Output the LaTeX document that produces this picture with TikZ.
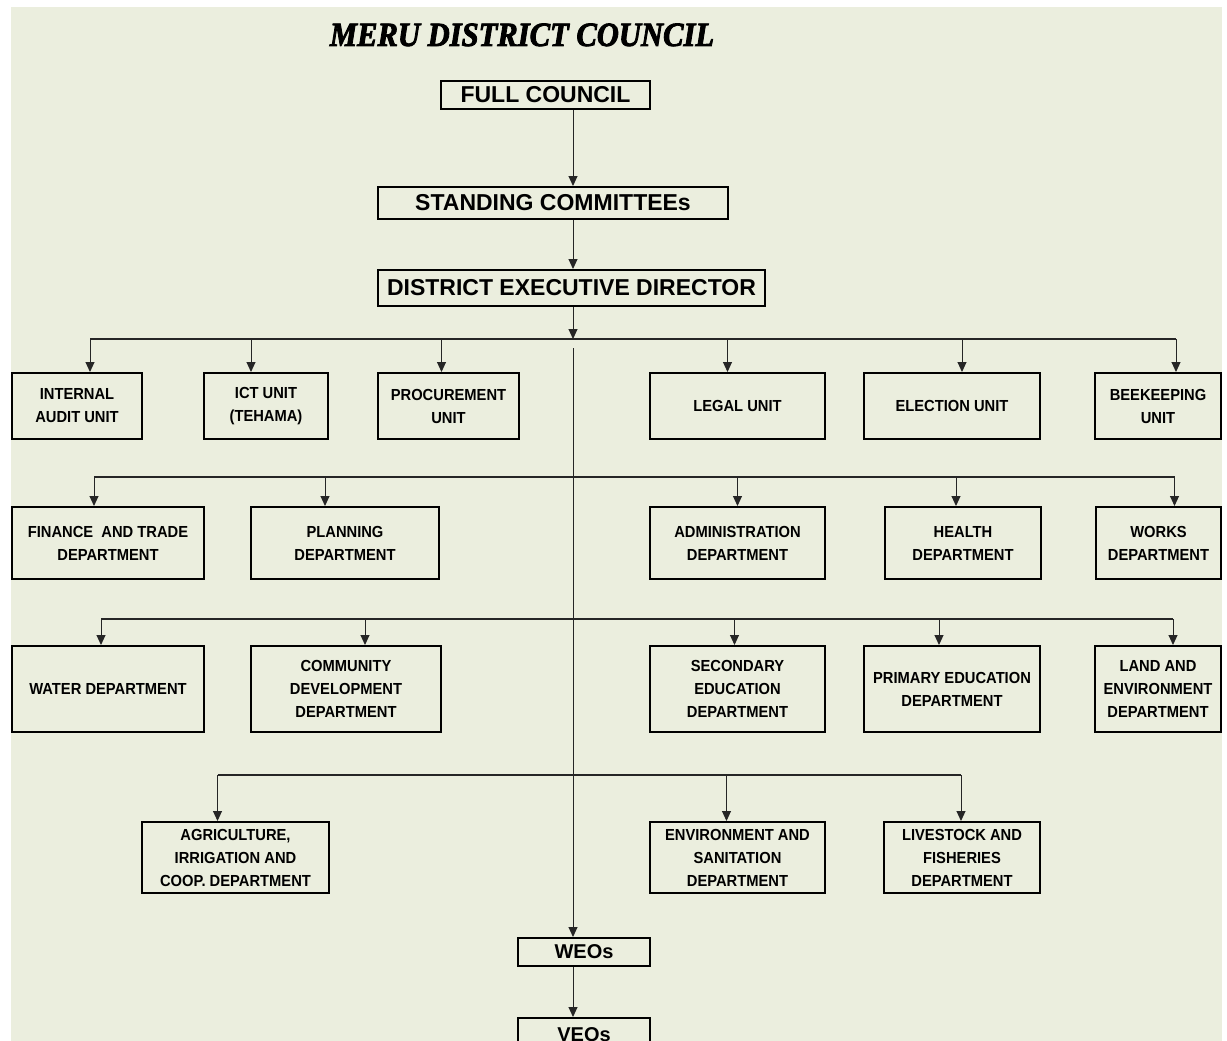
\documentclass[tikz,border=0pt]{standalone}
\usepackage{fontspec}
\setmainfont{Liberation Sans}
\newfontfamily\boxfont{Liberation Sans}[FakeStretch=0.92]
\newfontfamily\titlefont{Liberation Serif}[FakeBold=2.5,FakeStretch=0.9]
\usetikzlibrary{arrows.meta}
\definecolor{paper}{RGB}{235,238,222}

\begin{document}
\begin{tikzpicture}[x=1pt,y=-1pt,
  >={Triangle[length=10pt,width=9pt]},
  unit/.style={draw,rectangle,line width=2pt,anchor=north west,align=center,inner sep=0pt,
    font=\boxfont\bfseries\fontsize{16}{23}\selectfont},
  head/.style={draw,rectangle,line width=2pt,anchor=north west,inner sep=0pt,
    font=\bfseries\fontsize{23}{26}\selectfont},
  link/.style={->,line width=1pt,black!85},
  bus/.style={line width=1.2pt,black!85}]
\useasboundingbox (0,0) rectangle (1227,1041);
\fill[paper] (11,7) rectangle (1222,1041);

\node[font=\titlefont\bfseries\itshape\fontsize{34}{36}\selectfont,anchor=base] (title) at (522,46) {MERU DISTRICT COUNCIL};

\node[head,minimum width=209pt,minimum height=28pt] (full) at (440,80) {FULL COUNCIL};
\node[head,minimum width=350pt,minimum height=32pt] (stand) at (377,186) {STANDING COMMITTEEs};
\node[head,minimum width=387pt,minimum height=36pt] (ded) at (377,269) {DISTRICT EXECUTIVE DIRECTOR};

% units
\node[unit,minimum width=130pt,minimum height=66pt] (audit) at (11,372) {INTERNAL\\AUDIT UNIT};
\node[unit,minimum width=124pt,minimum height=66pt] (ict) at (203,372) {ICT UNIT\\(TEHAMA)};
\node[unit,minimum width=141pt,minimum height=66pt] (proc) at (377,372) {PROCUREMENT\\UNIT};
\node[unit,minimum width=175pt,minimum height=66pt] (legal) at (649,372) {LEGAL UNIT};
\node[unit,minimum width=176pt,minimum height=66pt] (elect) at (863,372) {ELECTION UNIT};
\node[unit,minimum width=126pt,minimum height=66pt] (bee) at (1094,372) {BEEKEEPING\\UNIT};

% departments
\node[unit,minimum width=192pt,minimum height=72pt] (fin) at (11,506) {FINANCE\ \ AND TRADE\\DEPARTMENT};
\node[unit,minimum width=188pt,minimum height=72pt] (plan) at (250,506) {PLANNING\\DEPARTMENT};
\node[unit,minimum width=175pt,minimum height=72pt] (admin) at (649,506) {ADMINISTRATION\\DEPARTMENT};
\node[unit,minimum width=156pt,minimum height=72pt] (health) at (884,506) {HEALTH\\DEPARTMENT};
\node[unit,minimum width=125pt,minimum height=72pt] (works) at (1095,506) {WORKS\\DEPARTMENT};

\node[unit,minimum width=192pt,minimum height=86pt] (water) at (11,645) {WATER DEPARTMENT};
\node[unit,minimum width=190pt,minimum height=86pt] (comm) at (250,645) {COMMUNITY\\DEVELOPMENT\\DEPARTMENT};
\node[unit,minimum width=175pt,minimum height=86pt] (sec) at (649,645) {SECONDARY\\EDUCATION\\DEPARTMENT};
\node[unit,minimum width=176pt,minimum height=86pt] (prim) at (863,645) {PRIMARY EDUCATION\\DEPARTMENT};
\node[unit,minimum width=126pt,minimum height=86pt] (land) at (1094,645) {LAND AND\\ENVIRONMENT\\DEPARTMENT};

\node[unit,minimum width=187pt,minimum height=71pt] (agri) at (141,821) {AGRICULTURE,\\IRRIGATION AND\\COOP. DEPARTMENT};
\node[unit,minimum width=175pt,minimum height=71pt] (envsan) at (649,821) {ENVIRONMENT AND\\SANITATION\\DEPARTMENT};
\node[unit,minimum width=156pt,minimum height=71pt] (live) at (883,821) {LIVESTOCK AND\\FISHERIES\\DEPARTMENT};

\node[head,minimum width=132pt,minimum height=28pt,font=\bfseries\fontsize{20}{24}\selectfont] (weo) at (517,937) {WEOs};
\node[head,minimum width=132pt,minimum height=34pt,font=\bfseries\fontsize{20}{24}\selectfont] (veo) at (517,1017) {VEOs};

\coordinate (axis) at (573,0);
\coordinate (bus1) at (573,339);
\coordinate (split) at (573,348);

\draw[link] (full.south -| axis) -- (stand.north -| axis);
\draw[link] (stand.south -| axis) -- (ded.north -| axis);
\draw[link] (ded.south -| axis) -- (bus1);
\draw[link] (split) -- (weo.north -| axis);
\draw[link] (weo.south -| axis) -- (veo.north -| axis);

% row buses
\draw[bus] ([xshift=13pt,yshift=33pt]audit.north) -- ([xshift=18pt,yshift=33pt]bee.north);
\foreach \n/\dx in {audit/13,ict/-15,proc/-7,legal/-10,elect/10,bee/18}
  \draw[link] ([xshift=\dx pt,yshift=33pt]\n.north) -- ([xshift=\dx pt]\n.north);

\draw[bus] ([xshift=-14pt,yshift=29pt]fin.north) -- ([xshift=16pt,yshift=29pt]works.north);
\foreach \n/\dx in {fin/-14,plan/-20,admin/0,health/-7,works/16}
  \draw[link] ([xshift=\dx pt,yshift=29pt]\n.north) -- ([xshift=\dx pt]\n.north);

\draw[bus] ([xshift=-7pt,yshift=26pt]water.north) -- ([xshift=15pt,yshift=26pt]land.north);
\foreach \n/\dx in {water/-7,comm/19,sec/-3,prim/-13,land/15}
  \draw[link] ([xshift=\dx pt,yshift=26pt]\n.north) -- ([xshift=\dx pt]\n.north);

\draw[bus] ([xshift=-18pt,yshift=46pt]agri.north) -- ([xshift=-1pt,yshift=46pt]live.north);
\foreach \n/\dx in {agri/-18,envsan/-11,live/-1}
  \draw[link] ([xshift=\dx pt,yshift=46pt]\n.north) -- ([xshift=\dx pt]\n.north);
\end{tikzpicture}
\end{document}
